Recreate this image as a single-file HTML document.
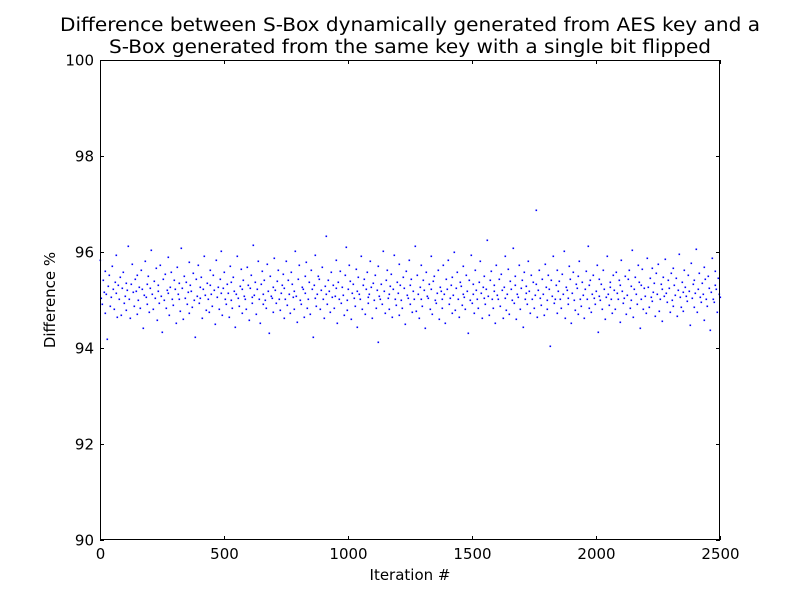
<!DOCTYPE html>
<html><head><meta charset="utf-8">
<style>
body{margin:0;background:#fff;}
svg{display:block;font-family:"DejaVu Sans","Liberation Sans",sans-serif;}
</style></head>
<body>
<svg id="chart" width="800" height="600" viewBox="0 0 800 600">
<rect width="800" height="600" fill="#fff"/>
<text x="410" y="31" font-size="18.5" text-anchor="middle" textLength="700" lengthAdjust="spacingAndGlyphs">Difference between S-Box dynamically generated from AES key and a</text>
<text x="410" y="53" font-size="18.5" text-anchor="middle" textLength="602" lengthAdjust="spacingAndGlyphs">S-Box generated from the same key with a single bit flipped</text>
<g id="points"></g>
<rect x="100.5" y="60.5" width="619" height="479" fill="none" stroke="#000" stroke-width="1"/>
<g id="axes"></g>
<text x="410" y="580" font-size="15" text-anchor="middle">Iteration #</text>
<text transform="translate(55,300) rotate(-90)" font-size="15" text-anchor="middle">Difference %</text>
</svg>
<script>
const xTicks=[0,500,1000,1500,2000,2500];
const yTicks=[90,92,94,96,98,100];
const values=[95.83,95.04,94.91,95.42,95.17,94.73,95.61,95.12,94.18,95.29,95.53,94.88,95.07,95.71,95.23,94.82,95.38,95.14,95.93,94.64,
95.31,95.02,95.47,94.69,95.24,95.58,94.93,95.09,95.36,94.79,95.21,96.13,95.03,94.62,95.33,95.74,95.16,94.87,95.44,95.19,
94.71,95.52,95.01,95.27,94.84,95.63,95.22,94.41,95.11,95.81,95.06,94.92,95.34,95.49,94.74,95.26,96.04,95.13,94.81,95.39,
95.04,95.66,94.59,95.32,95.18,94.94,95.72,95.08,94.33,95.43,95.01,95.54,94.83,95.21,95.89,95.14,94.68,95.28,95.59,95.03,
94.89,95.41,95.23,94.52,95.69,95.12,95.02,95.35,94.77,96.08,95.24,94.61,95.51,95.05,95.37,94.91,95.16,95.79,94.72,95.32,
95.19,94.86,95.57,95.01,94.23,95.44,95.09,95.73,94.93,95.28,95.04,95.48,94.63,95.22,95.92,95.11,94.79,95.36,95.03,94.74,
95.62,95.31,95.13,94.88,95.53,95.21,94.51,95.84,95.06,95.27,94.82,95.43,95.15,96.02,94.69,95.24,95.58,95.02,94.92,95.33,
95.14,94.64,95.71,95.38,95.01,94.84,95.47,95.19,94.44,95.12,95.91,95.04,94.87,95.29,95.64,95.22,94.73,95.41,95.09,95.03,
94.81,95.68,95.32,94.58,95.26,95.52,95.06,94.94,96.14,95.11,95.37,94.71,95.23,95.82,95.02,94.53,95.34,95.61,95.13,94.91,
95.42,95.01,94.83,95.74,95.18,94.31,95.49,95.08,95.04,95.28,94.76,95.88,95.21,94.93,95.39,95.63,95.03,94.79,95.14,95.31,
95.54,94.62,95.24,95.02,95.81,94.89,95.41,95.12,94.72,95.59,95.33,95.06,94.82,95.19,96.03,95.09,94.54,95.44,95.72,95.01,
94.91,95.27,95.23,94.64,95.51,95.14,95.79,94.84,95.03,95.38,94.71,95.62,95.22,94.22,95.31,95.93,95.04,94.88,95.12,95.49,
95.43,94.81,95.21,95.69,95.02,94.63,95.29,95.13,96.34,94.92,95.41,95.18,94.74,95.58,95.06,95.32,94.83,95.09,95.83,95.24,
94.52,95.37,95.03,95.61,94.93,95.28,95.11,94.68,95.53,96.11,95.01,94.79,95.22,95.73,95.39,94.61,95.14,95.33,95.04,94.87,
95.64,95.19,94.43,95.48,95.12,95.02,95.91,94.82,95.31,95.44,94.71,95.23,95.59,95.06,94.94,95.13,95.81,95.27,94.62,95.36,
95.01,95.52,94.84,95.21,94.12,95.71,95.09,95.03,95.34,94.91,96.02,95.18,94.73,95.42,95.63,95.04,94.81,95.12,95.29,95.54,
94.64,95.22,95.94,95.02,94.89,95.38,95.14,94.69,95.74,95.31,95.01,94.83,95.47,95.24,94.51,95.61,95.11,95.04,95.84,94.92,
95.32,95.43,94.74,95.19,95.03,96.12,94.78,95.53,95.13,94.63,95.28,95.72,95.02,94.88,95.41,95.21,94.42,95.58,95.09,95.04,
95.33,94.82,95.92,95.23,94.71,95.39,95.51,95.01,94.93,95.14,95.62,94.61,95.27,95.18,95.03,94.84,95.73,95.12,94.53,95.44,
95.22,95.83,94.91,95.04,95.31,94.72,95.48,95.11,96.01,94.79,95.24,95.59,95.02,94.64,95.37,95.29,94.89,95.13,95.71,95.06,
94.81,95.52,95.19,94.32,95.42,95.01,95.93,94.94,95.12,95.34,94.73,95.63,95.21,95.03,94.83,95.38,95.82,95.14,94.62,95.28,
95.04,95.49,94.92,95.23,96.24,95.09,94.68,95.41,95.61,95.02,94.84,95.32,95.18,94.52,95.72,95.11,95.03,95.43,94.88,95.54,
95.21,94.63,95.27,95.91,95.04,94.79,95.13,95.64,94.71,95.39,95.22,95.01,96.09,94.93,95.31,95.51,94.61,95.12,95.06,95.73,
94.82,95.24,95.42,94.43,95.58,95.03,95.14,95.29,94.91,95.81,95.19,94.72,95.53,95.02,95.37,94.84,95.11,96.88,95.33,94.64,
95.21,95.62,95.04,94.89,95.44,95.13,94.69,95.74,95.28,95.01,94.81,95.52,95.23,94.04,95.41,95.09,95.92,94.94,95.03,95.32,
95.63,94.73,95.18,95.39,95.02,94.83,95.54,95.12,96.03,94.62,95.27,95.21,95.04,94.91,95.71,95.43,94.52,95.14,95.59,95.01,
94.79,95.33,95.24,94.71,95.49,95.82,95.03,94.88,95.38,95.11,94.63,95.22,95.61,95.02,96.12,94.84,95.31,95.42,94.74,95.13,
95.52,95.04,94.92,95.19,95.72,94.33,95.44,95.09,95.01,95.34,94.82,95.63,95.23,94.61,95.06,95.91,95.12,94.89,95.37,95.28,
95.03,94.72,95.53,95.21,94.81,95.58,95.14,95.02,95.41,94.54,95.32,95.84,95.18,94.93,95.04,95.51,94.71,95.11,95.43,95.62,
94.83,95.29,95.01,96.04,94.64,95.22,95.48,95.13,94.91,95.73,95.38,94.42,95.03,95.31,95.64,94.82,95.24,95.09,94.73,95.88,
95.27,94.86,95.46,95.07,95.66,94.97,95.17,95.36,94.67,95.56,95.12,95.76,94.77,95.02,95.34,95.22,94.57,95.47,95.08,95.86,
95.15,94.96,95.42,95.26,94.76,95.57,95.01,95.67,94.87,95.32,95.11,95.46,94.66,95.21,95.96,95.06,94.86,95.37,95.16,94.78,
95.63,95.27,95.08,94.98,95.52,95.19,94.47,95.78,95.04,95.33,94.85,95.41,95.14,96.06,94.75,95.23,95.56,95.07,94.95,95.36,
95.12,94.58,95.68,95.44,95.02,94.87,95.51,95.24,94.38,95.16,95.87,95.03,94.96,95.31,95.61,95.22,94.76,95.45,95.13,95.06];
const X0=100,X1=720,Y0=540,Y1=60;
const xScale=v=>X0+(v-0)/(2500-0)*(X1-X0);
const yScale=v=>Y0-(v-90)/(100-90)*(Y0-Y1);
const NS="http://www.w3.org/2000/svg";
const pg=document.getElementById('points');
const n=values.length;
values.forEach((v,i)=>{
  const r=document.createElementNS(NS,'rect');
  
  
  const it=i*2500/(n-1);
  r.setAttribute('x',(Math.round(xScale(it))-0.5).toString());
  r.setAttribute('y',(Math.round(yScale(v))-0.5).toString());
  r.setAttribute('width','1.6');r.setAttribute('height','1.6');
  r.setAttribute('fill','#0000ff');
  pg.appendChild(r);
});
const ax=document.getElementById('axes');
function line(x1,y1,x2,y2){const l=document.createElementNS(NS,'line');
  
  
  l.setAttribute('x1',x1);l.setAttribute('y1',y1);l.setAttribute('x2',x2);l.setAttribute('y2',y2);
  l.setAttribute('stroke','#000');l.setAttribute('stroke-width','1');ax.appendChild(l);}
function text(x,y,s,anchor,name){const t=document.createElementNS(NS,'text');
  
  
  t.setAttribute('x',x);t.setAttribute('y',y);t.setAttribute('font-size','15');t.setAttribute('text-anchor',anchor);
  t.textContent=s;ax.appendChild(t);}
xTicks.forEach(v=>{const x=Math.round(xScale(v))+0.5;
  line(x,540,x,536);line(x,60,x,64);text(x,559,String(v),'middle','x-tick-label');});
yTicks.forEach(v=>{const y=Math.round(yScale(v))+0.5;
  line(100,y,104,y);line(720,y,716,y);text(94,y+5,String(v),'end','y-tick-label');});
</script>
</body></html>
